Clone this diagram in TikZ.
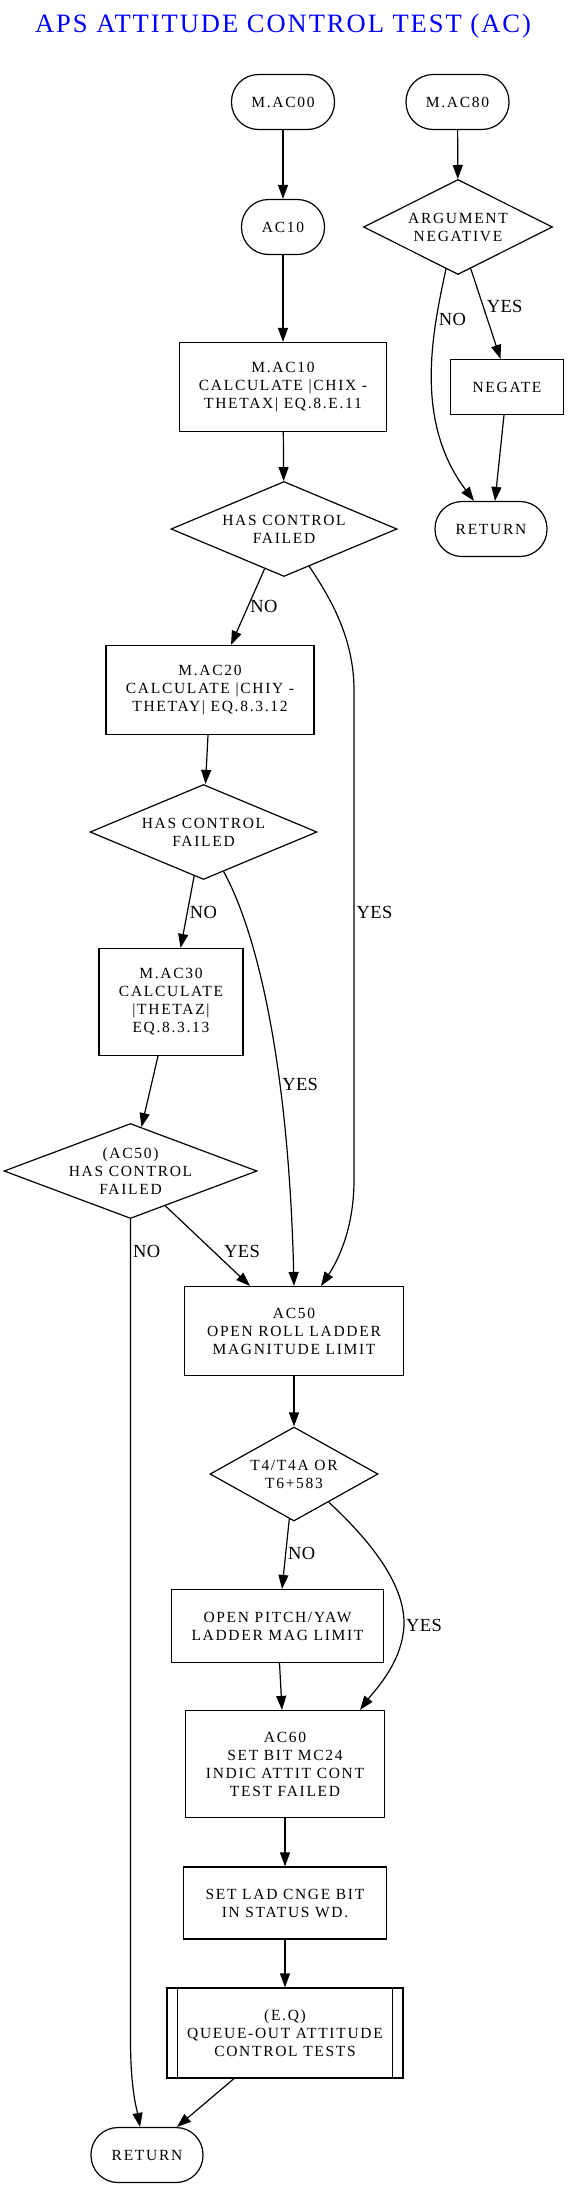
\documentclass[tikz,border=0pt]{standalone}
\usepackage{fontspec}
\setmainfont{Liberation Serif}
\newfontfamily\boxfont[LetterSpace=11]{Liberation Serif}
\newfontfamily\titlefont[LetterSpace=7.5]{Liberation Serif}
\newfontfamily\labfont[LetterSpace=2]{Liberation Serif}
\usetikzlibrary{shapes.geometric, arrows.meta}

\tikzset{
  term/.style={draw, line width=1.2pt, rounded corners=27pt, minimum width=103pt, minimum height=55pt,
    font=\boxfont\fontsize{15.5}{18}\selectfont, align=center},
  proc/.style={draw, line width=1.2pt, rectangle, font=\boxfont\fontsize{15.5}{18}\selectfont, align=center},
  dec/.style={draw, line width=1.2pt, diamond, inner sep=0pt, aspect=2.3,
    font=\boxfont\fontsize{15.5}{18}\selectfont, align=center},
  lab/.style={font=\labfont\fontsize{18.5}{20}\selectfont, inner sep=2pt},
  flow/.style={line width=1.2pt, -{Triangle[length=14pt, width=10pt]}}
}

\begin{document}
\begin{tikzpicture}[x=1pt, y=-1pt]
  \useasboundingbox (0,0) rectangle (568,2187);

  \node (title) at (283, 32) [anchor=base, text=blue, font=\titlefont\fontsize{26.5}{30}\selectfont] {APS ATTITUDE CONTROL TEST (AC)};

  \node (mac00) at (283, 102) [term] {M.AC00};
  \node (mac80) at (457.5, 102) [term] {M.AC80};
  \node (ac10) at (283, 227) [term, minimum width=83pt] {AC10};
  \node (argneg) at (458, 227) [dec, aspect=1.99, minimum width=189pt, minimum height=95pt] {ARGUMENT\\NEGATIVE};
  \node (mac10) at (283, 387) [proc, minimum width=207pt, minimum height=89pt] {M.AC10\\CALCULATE |CHIX -\\THETAX| EQ.8.E.11};
  \node (negate) at (507, 387) [proc, minimum width=113pt, minimum height=55pt] {NEGATE};
  \node (hcf1) at (284, 529) [dec, aspect=2.38, minimum width=226pt, minimum height=95pt] {HAS CONTROL\\FAILED};
  \node (ret1) at (491, 529) [term, minimum width=112pt] {RETURN};
  \node (mac20) at (210, 690) [proc, minimum width=208pt, minimum height=89pt] {M.AC20\\CALCULATE |CHIY -\\THETAY| EQ.8.3.12};
  \node (hcf2) at (203.5, 832) [dec, aspect=2.38, minimum width=227pt, minimum height=95pt] {HAS CONTROL\\FAILED};
  \node (mac30) at (171, 1002) [proc, minimum width=144pt, minimum height=107pt] {M.AC30\\CALCULATE\\|THETAZ|\\EQ.8.3.13};
  \node (ac50dia) at (130.5, 1171) [dec, aspect=2.66, inner sep=-4pt, minimum width=253pt, minimum height=95pt] {(AC50)\\HAS CONTROL\\FAILED};
  \node (ac50) at (294, 1331) [proc, minimum width=219pt, minimum height=89pt] {AC50\\OPEN ROLL LADDER\\MAGNITUDE LIMIT};
  \node (t4) at (294, 1474) [dec, aspect=1.79, minimum width=168pt, minimum height=94pt] {T4/T4A OR\\T6+583};
  \node (openpy) at (277.5, 1626) [proc, minimum width=212pt, minimum height=73pt] {OPEN PITCH/YAW\\LADDER MAG LIMIT};
  \node (ac60) at (285, 1764) [proc, minimum width=199pt, minimum height=107pt] {AC60\\SET BIT MC24\\INDIC ATTIT CONT\\TEST FAILED};
  \node (setlad) at (285, 1903) [proc, minimum width=203.5pt, minimum height=72pt] {SET LAD CNGE BIT\\IN STATUS WD.};
  \node (eq) at (285, 2033) [proc, minimum width=236pt, minimum height=90pt] {(E.Q)\\QUEUE-OUT ATTITUDE\\CONTROL TESTS};
  \node (ret2) at (147, 2155) [term, minimum width=112pt] {RETURN};

  \draw[line width=1.2pt] ([xshift=11pt]eq.north west) -- ([xshift=11pt]eq.south west);
  \draw[line width=1.2pt] ([xshift=-11pt]eq.north east) -- ([xshift=-11pt]eq.south east);

  \draw[flow] (mac00) -- (ac10);
  \draw[flow] (mac80) -- (argneg);
  \draw[flow] (ac10) -- (mac10);
  \draw[flow] (mac10) -- (hcf1);
  \draw[flow] (argneg.287) -- ([xshift=-6.5pt]negate.north) node[lab, pos=0.42, right, xshift=1pt] {YES};
  \draw[flow] (argneg.254) .. controls (433,330) and (413,420) .. ([xshift=-17pt]ret1.north) node[lab, pos=0.25, right] {NO};
  \draw[flow] ([xshift=-3pt]negate.south) -- ([xshift=4pt]ret1.north);

  \draw[flow] (hcf1.244) -- ([xshift=21pt]mac20.north) node[lab, pos=0.5, right] {NO};
  \draw[flow] (hcf1.304) .. controls (332,600) and (354,640) .. (354,690) -- (354,1180) node[lab, pos=0.455, right] {YES}
    .. controls (354,1230) and (337,1262) .. ([xshift=27pt]ac50.north);
  \draw[flow] ([xshift=-2pt]mac20.south) -- ([xshift=2pt]hcf2.north);
  \draw[flow] (hcf2.258) -- ([xshift=9.6pt]mac30.north) node[lab, pos=0.5, right] {NO};
  \draw[flow] (hcf2.297) .. controls (261,940) and (289,1080) .. (ac50.north) node[lab, pos=0.63, right] {YES};
  \draw[flow] ([xshift=-13pt]mac30.south) -- (ac50dia.76);
  \draw[flow] (ac50dia.315) -- ([xshift=-44pt]ac50.north) node[lab, pos=0.57, right, xshift=8pt] {YES};
  \draw[flow] (ac50dia.south) -- (130.5,2040) node[lab, pos=0.04, right] {NO}
    .. controls (130.5,2090) and (137,2110) .. ([xshift=-7pt]ret2.north);

  \draw[flow] (ac50) -- (t4);
  \draw[flow] (t4.264) -- ([xshift=4.5pt]openpy.north) node[lab, pos=0.5, right] {NO};
  \draw[flow] (t4.321) .. controls (375,1545) and (408,1590) .. (403.6,1630) node[lab, right, yshift=5pt] {YES}
    .. controls (400,1665) and (375,1690) .. ([xshift=75pt]ac60.north);
  \draw[flow] ([xshift=2pt]openpy.south) -- ([xshift=-3pt]ac60.north);
  \draw[flow] (ac60) -- (setlad);
  \draw[flow] (setlad) -- (eq);
  \draw[flow] ([xshift=-51pt]eq.south) -- ([xshift=30pt]ret2.north);
\end{tikzpicture}
\end{document}
